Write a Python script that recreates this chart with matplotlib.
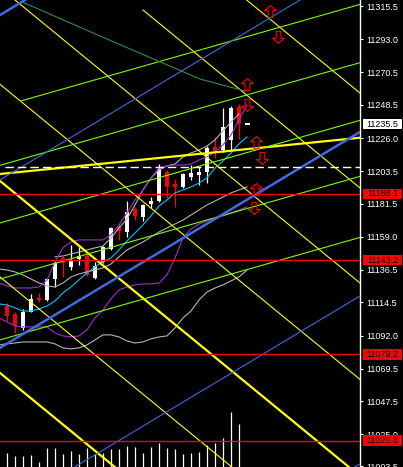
import numpy as np
import matplotlib.pyplot as plt
import matplotlib.transforms as mtransforms
from matplotlib.patches import Rectangle
from matplotlib.path import Path

# --- candles (30 bars) ---
opens = [11112.1, 11106.7, 11097.4, 11108.2, 11117.7, 11116.2, 11130.4, 11144.6, 11138.7, 11144.0,
         11146.3, 11131.1, 11141.9, 11150.8, 11165.7, 11162.5, 11177.7, 11172.7, 11181.1, 11183.3,
         11203.2, 11194.6, 11193.0, 11199.8, 11200.9, 11203.2, 11220.1, 11217.9, 11224.7, 11247.2]
highs = [11114.1, 11108.0, 11110.1, 11120.2, 11121.1, 11131.1, 11142.6, 11145.7, 11153.5, 11151.8,
         11147.4, 11141.9, 11152.8, 11165.7, 11168.6, 11183.3, 11179.4, 11181.3, 11186.2, 11208.4,
         11204.3, 11198.0, 11202.3, 11207.7, 11206.6, 11220.6, 11226.9, 11246.1, 11247.7, 11249.1]
lows = [11102.1, 11093.8, 11095.8, 11108.0, 11115.0, 11115.5, 11124.8, 11132.0, 11136.5, 11139.9,
        11132.4, 11130.4, 11141.3, 11150.1, 11156.9, 11159.1, 11170.4, 11169.7, 11178.3, 11182.6,
        11185.5, 11179.4, 11192.1, 11197.5, 11194.1, 11195.5, 11212.2, 11216.5, 11217.2, 11225.1]
closes = [11105.3, 11098.5, 11108.2, 11116.9, 11116.2, 11130.4, 11141.5, 11141.0, 11143.3, 11146.3,
          11133.1, 11139.2, 11151.9, 11165.0, 11163.0, 11176.0, 11173.3, 11180.6, 11183.5, 11205.0,
          11192.6, 11192.6, 11201.4, 11202.5, 11203.2, 11219.2, 11217.4, 11233.7, 11246.1, 11235.5]
volumes = [143, 110, 110, 120, 50, 193, 193, 133, 160, 133, 193, 133, 143, 180, 180,
           213, 200, 143, 200, 243, 187, 180, 133, 143, 153, 223, 243, 293, 550, 430]

# --- indicator lines, one value per bar starting at bar -1 ---
cyan_ma = [11113.5, 11112.8, 11110.8, 11108.7, 11108.7, 11110.1, 11112.1, 11115.5, 11121.0, 11125.0,
           11129.8, 11134.5, 11138.6, 11142.0, 11144.7, 11150.1, 11156.2, 11161.6, 11167.1, 11173.2,
           11179.9, 11184.0, 11188.8, 11190.8, 11192.8, 11195.5, 11198.9, 11205.7, 11210.4, 11215.9,
           11222.0, 11226.7]
# upper gray band only shows from bar 6
gray_upper = [11145.4, 11146.0, 11147.4, 11148.7, 11150.1, 11151.5, 11152.8, 11158.2, 11165.0, 11171.1,
              11180.6, 11190.8, 11198.9, 11204.3, 11207.1, 11208.4, 11213.2, 11215.9, 11217.9, 11220.6,
              11224.7, 11230.8, 11236.9, 11242.3]
gray_mid = [11137.2, 11136.5, 11135.2, 11133.2, 11130.4, 11127.7, 11125.7, 11125.0, 11127.7, 11131.8,
            11133.8, 11135.2, 11136.5, 11137.9, 11140.6, 11145.4, 11150.1, 11152.8, 11155.5, 11158.9,
            11162.3, 11165.0, 11167.7, 11170.4, 11173.8, 11177.2, 11180.6, 11183.3, 11186.0, 11188.8,
            11190.8, 11192.8]
gray_lower = [11085.7, 11086.4, 11087.0, 11087.7, 11087.7, 11087.7, 11087.7, 11086.4, 11083.7, 11083.0,
              11083.7, 11085.7, 11089.1, 11092.5, 11092.5, 11091.1, 11088.4, 11087.0, 11087.7, 11089.8,
              11091.1, 11091.8, 11097.2, 11104.0, 11108.7, 11116.2, 11121.6, 11124.3, 11126.4, 11129.1,
              11131.8, 11136.5]
purple_upper = [11127.7, 11125.7, 11124.3, 11124.3, 11124.3, 11125.0, 11129.8, 11142.0, 11151.5, 11155.5,
                11156.9, 11156.9, 11156.9, 11156.9, 11160.3, 11167.1, 11175.2, 11184.0, 11190.8, 11198.9,
                11205.7, 11207.1, 11207.7, 11207.7, 11208.4, 11211.1, 11213.2, 11216.5, 11221.3, 11228.1,
                11238.2, 11248.4]
purple_lower = [11104.0, 11101.3, 11098.6, 11097.9, 11097.9, 11097.9, 11097.9, 11093.8, 11091.8, 11091.1,
                11091.8, 11095.9, 11104.0, 11109.4, 11116.9, 11123.0, 11125.0, 11126.4, 11127.1, 11127.1,
                11127.7, 11133.2, 11144.7, 11158.2, 11164.3, 11167.7, 11169.8, 11171.8, 11173.2, 11175.2,
                11177.2, 11179.3]

# --- drawn objects: (bar0, price0, bar1, price1) ---
yellow_thin = [(29.96, 11319.6, 44.125, 11256.5), (17.0, 11312.8, 44.125, 11192.1),
               (1.0, 11319.6, 44.125, 11127.7), (-0.875, 11262.4, 44.125, 11062.3),
               (-0.875, 11131.8, 44.125, 10931.6)]
yellow_thick = [(-0.875, 11196.9, 44.125, 10996.7), (-0.875, 11066.7, 44.125, 10866.6),
                (-0.875, 11201.6, 44.125, 11226.2)]
green_lines = [(1.84, 11251.3, 44.125, 11316.6), (-0.875, 11207.5, 44.125, 11277.1),
               (-0.875, 11168.4, 44.125, 11238.0), (-0.875, 11130.4, 44.125, 11200.0),
               (-0.875, 11089.1, 44.125, 11158.6)]
blue_thin = [(-0.875, 11197.6, 44.125, 11344.0), (-0.875, 10972.5, 44.125, 11118.9),
             (-0.875, 10858.6, 44.125, 11005.0)]
blue_thick = [(-0.875, 11083.7, 44.125, 11230.1), (-0.875, 11309.4, 44.125, 11455.8)]
dark_green_bars = [1.84, 11.625, 24.125, 29.75]
dark_green_prices = [11318.4, 11295.2, 11266.0, 11257.9]
dash_level = 11206.6
levels = [11188.1, 11143.2, 11079.2, 11020.8]
last_price = 11235.5

up_arrows = [(32.9, 11312.1), (30.0, 11262.6), (31.1, 11223.3), (31.1, 11191.5)]
down_arrows = [(33.9, 11294.5), (30.0, 11248.4), (31.9, 11212.5), (30.9, 11178.6)]

tick_values = [11315.5, 11293.0, 11270.5, 11248.5, 11226.0, 11203.5, 11181.5, 11159.0,
               11136.5, 11114.5, 11092.0, 11069.5, 11047.5, 11025.0, 11003.5]

# hollow arrow shape for the arrow objects
up_shape = Path([(0, 1), (1, 0.15), (0.4, 0.15), (0.4, -1), (-0.4, -1), (-0.4, 0.15),
                 (-1, 0.15), (0, 1)], closed=True)
down_shape = Path([(0, -1), (1, -0.15), (0.4, -0.15), (0.4, 1), (-0.4, 1), (-0.4, -0.15),
                   (-1, -0.15), (0, -1)], closed=True)

W, H = 403, 467
fig = plt.figure(figsize=(W / 100, H / 100), dpi=100, facecolor='black')
rect = [0, 0, 360 / W, 1]

axv = fig.add_axes(rect)
axv.set_facecolor('black')
ax = fig.add_axes(rect, sharex=axv)
ax.patch.set_visible(False)
axv.set_zorder(0)
ax.set_zorder(1)

ax.set_xlim(-0.875, 44.125)
ax.set_ylim(11002.9, 11319.6)

bars = np.arange(len(opens))
band_bars = np.arange(-1, 31)

# volume
axv.set_ylim(0, 4670)
axv.vlines(bars, 0, volumes, color='white', lw=0.9)
axv.axis('off')

# candles
for i in bars:
    col = 'white' if closes[i] >= opens[i] else 'red'
    ax.vlines(i, lows[i], highs[i], color=col, lw=0.9, zorder=2)
    lo, hi = min(opens[i], closes[i]), max(opens[i], closes[i])
    ax.bar(i, max(hi - lo, 0.8), bottom=lo, width=0.62, color=col, zorder=2, linewidth=0)
ax.hlines(last_price, 29.75, 30.4, color='white', lw=1.5, zorder=2)

# indicators
ax.plot(band_bars[7:7 + len(gray_upper)], gray_upper, color='#b4b4b4', lw=0.8, zorder=3)
ax.plot(band_bars, gray_mid, color='#b4b4b4', lw=0.8, zorder=3)
ax.plot(band_bars, gray_lower, color='#b4b4b4', lw=0.8, zorder=3)
ax.plot(band_bars, purple_upper, color='#9932cc', lw=0.8, zorder=3)
ax.plot(band_bars, purple_lower, color='#9932cc', lw=0.8, zorder=3)
ax.plot(band_bars, cyan_ma, color='#00bfff', lw=0.8, zorder=3)

# objects
for x0, y0, x1, y1 in yellow_thin:
    ax.plot([x0, x1], [y0, y1], color='yellow', lw=0.8, zorder=4)
for x0, y0, x1, y1 in yellow_thick:
    ax.plot([x0, x1], [y0, y1], color='yellow', lw=1.6, zorder=4)
for x0, y0, x1, y1 in green_lines:
    ax.plot([x0, x1], [y0, y1], color='#7cfc00', lw=0.8, zorder=4)
for x0, y0, x1, y1 in blue_thin:
    ax.plot([x0, x1], [y0, y1], color='#4169e1', lw=0.8, zorder=4)
for x0, y0, x1, y1 in blue_thick:
    ax.plot([x0, x1], [y0, y1], color='#4169e1', lw=1.8, zorder=4)
ax.plot(dark_green_bars, dark_green_prices, color='#2e8b57', lw=0.8, zorder=4)
ax.hlines(dash_level, -0.25, 44.125, color='white', lw=1.0, linestyles=(0, (6, 3)), zorder=4)
for lv in levels:
    ax.axhline(lv, color='red', lw=1.0, zorder=4)

ax.plot([a[0] for a in up_arrows], [a[1] for a in up_arrows], linestyle='none',
        marker=up_shape, markersize=8.5, markerfacecolor='none', markeredgecolor='red',
        markeredgewidth=0.8, zorder=5)
ax.plot([a[0] for a in down_arrows], [a[1] for a in down_arrows], linestyle='none',
        marker=down_shape, markersize=8.5, markerfacecolor='none', markeredgecolor='red',
        markeredgewidth=0.8, zorder=5)

# price axis
for s in ['top', 'left', 'bottom']:
    ax.spines[s].set_visible(False)
ax.spines['right'].set_color('white')
ax.spines['right'].set_linewidth(1.0)
ax.xaxis.set_visible(False)
ax.yaxis.tick_right()
ax.set_yticks(tick_values)
ax.set_yticklabels([f'{v:.1f}' for v in tick_values], family='Liberation Sans')
ax.tick_params(axis='y', colors='white', length=2.5, width=0.8, pad=2, labelsize=6.5)

tr = mtransforms.blended_transform_factory(fig.transFigure, ax.transData)
box_h = 10.7 * 0.678
for lv in levels:
    ax.add_patch(Rectangle((362.7 / W, lv - box_h / 2), 39.6 / W, box_h, transform=tr,
                           facecolor='red', edgecolor='none', clip_on=False, zorder=6))
    ax.text(382.5 / W, lv, f'{lv:.1f}', transform=tr, color='black', fontsize=6.5,
            family='Liberation Sans', ha='center', va='center', clip_on=False, zorder=7)
ax.add_patch(Rectangle((362.7 / W, last_price - box_h / 2), 39.6 / W, box_h, transform=tr,
                       facecolor='white', edgecolor='none', clip_on=False, zorder=6))
ax.text(382.5 / W, last_price, f'{last_price:.1f}', transform=tr, color='black', fontsize=6.5,
        family='Liberation Sans', ha='center', va='center', clip_on=False, zorder=7)

fig.savefig('out.png', dpi=100, facecolor='black')
